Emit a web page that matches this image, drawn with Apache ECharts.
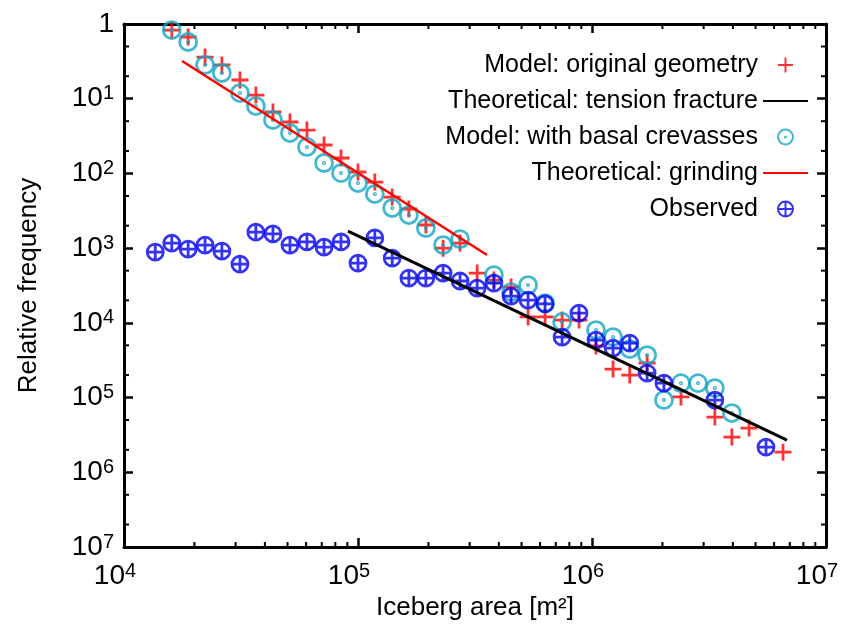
<!DOCTYPE html>
<html>
<head>
<meta charset="utf-8">
<script src="https://cdn.jsdelivr.net/npm/echarts@6/dist/echarts.min.js"></script>
<style>
html,body{margin:0;padding:0;background:#fff;}
#chart{width:841px;height:633px;}
</style>
</head>
<body>
<div id="chart"></div>
<script>
// ---- Data ----
const origX = [1.60e4, 1.88e4, 2.22e4, 2.62e4, 3.13e4, 3.66e4, 4.33e4, 5.12e4, 6.05e4, 7.16e4, 8.46e4, 1.00e5, 1.18e5, 1.40e5, 1.65e5, 1.95e5, 2.31e5, 2.73e5, 3.23e5, 3.81e5, 4.51e5, 5.33e5, 6.30e5, 7.45e5, 8.80e5, 1.04e6, 1.23e6, 1.45e6, 1.72e6, 2.40e6, 3.35e6, 3.96e6, 4.69e6, 6.55e6];
const origY = [0.83, 0.67, 0.361, 0.283, 0.178, 0.112, 0.0664, 0.0488, 0.0381, 0.024, 0.0161, 0.01045, 0.00767, 0.00483, 0.00334, 0.00204, 0.00100, 0.00117, 4.64e-4, 3.74e-4, 3.01e-4, 1.20e-4, 1.20e-4, 1.09e-4, 1.09e-4, 4.9e-5, 2.41e-5, 2.0e-5, 2.9e-5, 1.02e-5, 5.48e-6, 2.96e-6, 3.9e-6, 1.86e-6];

const basalX = [1.60e4, 1.88e4, 2.22e4, 2.62e4, 3.13e4, 3.66e4, 4.33e4, 5.12e4, 6.05e4, 7.16e4, 8.46e4, 1.00e5, 1.18e5, 1.40e5, 1.65e5, 1.95e5, 2.31e5, 2.73e5, 3.81e5, 4.51e5, 5.33e5, 6.30e5, 7.45e5, 1.04e6, 1.23e6, 1.45e6, 1.72e6, 2.03e6, 2.40e6, 2.84e6, 3.35e6, 3.96e6];
const basalY = [0.83, 0.574, 0.283, 0.221, 0.119, 0.0798, 0.0519, 0.0347, 0.0226, 0.0138, 0.0101, 0.00744, 0.0053, 0.00344, 0.00277, 0.00186, 0.0011, 0.00132, 4.36e-4, 2.58e-4, 3.2e-4, 1.84e-4, 1.03e-4, 8.0e-5, 6.45e-5, 4.46e-5, 3.7e-5, 9.3e-6, 1.56e-5, 1.56e-5, 1.34e-5, 6.2e-6];

const obsX = [1.36e4, 1.60e4, 1.88e4, 2.22e4, 2.62e4, 3.13e4, 3.66e4, 4.33e4, 5.12e4, 6.05e4, 7.16e4, 8.46e4, 1.00e5, 1.18e5, 1.40e5, 1.65e5, 1.95e5, 2.31e5, 2.73e5, 3.23e5, 3.81e5, 4.51e5, 5.33e5, 6.30e5, 7.45e5, 8.80e5, 1.04e6, 1.23e6, 1.45e6, 1.72e6, 2.03e6, 3.35e6, 5.54e6];
const obsY = [8.87e-4, 1.17e-3, 9.73e-4, 1.10e-3, 9.15e-4, 6.12e-4, 1.64e-3, 1.55e-3, 1.10e-3, 1.21e-3, 1.03e-3, 1.21e-3, 6.32e-4, 1.37e-3, 7.37e-4, 3.98e-4, 3.98e-4, 4.64e-4, 3.63e-4, 2.92e-4, 3.41e-4, 2.28e-4, 2.02e-4, 1.79e-4, 6.45e-5, 1.35e-4, 5.89e-5, 4.6e-5, 5.37e-5, 2.13e-5, 1.56e-5, 9.26e-6, 2.17e-6];

const tensionX = [9.06e4, 6.81e6];
const tensionY = [1.69e-3, 2.7e-6];
const grindX = [1.77e4, 3.56e5];
const grindY = [0.32, 8.09e-4];

const seriesNames = ['Model: original geometry', 'Theoretical: tension fracture', 'Model: with basal crevasses', 'Theoretical: grinding', 'Observed'];
const xAxisTitle = 'Iceberg area [m\u00B2]';
const yAxisTitle = 'Relative frequency';

// axis ranges / tick lists
const xMin = 1e4, xMax = 1e7;
const yMin = 1e-7, yMax = 1;
const xMinorMantissas = [2, 3, 4, 5, 6, 7, 8, 9];
const yMinorMantissas = [2, 5];

// ---- build ----
const zip = (xs, ys) => xs.map((x, i) => [x, ys[i]]);
const FONT = '"Liberation Sans", Arial, Helvetica, sans-serif';

function minorTicks(lo, hi, mant) {
  const out = [];
  for (let e = Math.round(Math.log10(lo)); e < Math.round(Math.log10(hi)); e++) {
    mant.forEach(m => out.push(m * Math.pow(10, e)));
  }
  return out;
}
const xMinor = minorTicks(xMin, xMax, xMinorMantissas);
const yMinor = minorTicks(yMin, yMax, yMinorMantissas);

const crossPath = 'path://M0,10L20,10M10,0L10,20';
const dotCirclePath = 'path://M0,10A10,10,0,1,1,20,10A10,10,0,1,1,0,10ZM9.2,10A0.8,0.8,0,1,1,10.8,10A0.8,0.8,0,1,1,9.2,10Z';
const plusCirclePath = 'path://M0,10A10,10,0,1,1,20,10A10,10,0,1,1,0,10ZM0,10L20,10M10,0L10,20';

const RED = '#ff0000', CYAN = '#12a6c4', BLUE = '#0000ee', BLACK = '#000000';

function expLabel(v) {
  const e = Math.round(Math.log10(v));
  if (e === 0) return '{b|1}';
  return '{b|10}{s|' + Math.abs(e) + '}';
}
const richLabel = {
  b: { fontSize: 28, fontFamily: FONT, color: '#000', lineHeight: 30 },
  s: { fontSize: 20, fontFamily: FONT, color: '#000', lineHeight: 20, verticalAlign: 'top' }
};

function axisBase(extra) {
  return Object.assign({
    type: 'log', logBase: 10,
    axisLine: { show: true, onZero: false, lineStyle: { color: '#000', width: 3 } },
    axisTick: { show: true, inside: true, length: 9, lineStyle: { color: '#000', width: 2.5 } },
    splitLine: { show: false },
    minorTick: { show: false }
  }, extra);
}

// minor tick marks on all four frame sides, placed through the axis scales
function xTickSeries(values, len, width) {
  return {
    type: 'custom', clip: false,
    data: values.map(v => [v, 1e-3]),
    renderItem: function (params, api) {
      const cs = params.coordSys;
      const x = api.coord([api.value(0), 1e-3])[0];
      const b = cs.y + cs.height;
      return { type: 'group', children: [
        { type: 'line', shape: { x1: x, y1: b, x2: x, y2: b - len }, style: { stroke: '#000', lineWidth: width } },
        { type: 'line', shape: { x1: x, y1: cs.y, x2: x, y2: cs.y + len }, style: { stroke: '#000', lineWidth: width } }
      ] };
    }
  };
}
function yTickSeries(values, len, width) {
  return {
    type: 'custom', clip: false,
    data: values.map(v => [1e5, v]),
    renderItem: function (params, api) {
      const cs = params.coordSys;
      const y = api.coord([1e5, api.value(1)])[1];
      const r = cs.x + cs.width;
      return { type: 'group', children: [
        { type: 'line', shape: { x1: cs.x, y1: y, x2: cs.x + len, y2: y }, style: { stroke: '#000', lineWidth: width } },
        { type: 'line', shape: { x1: r, y1: y, x2: r - len, y2: y }, style: { stroke: '#000', lineWidth: width } }
      ] };
    }
  };
}

const chart = echarts.init(document.getElementById('chart'), null, { renderer: 'canvas' });
chart.setOption({
  animation: false,
  grid: { left: 124, right: 15, top: 24, bottom: 86, outerBoundsMode: 'none' },
  xAxis: [
    axisBase({
      min: xMin, max: xMax,
      axisLabel: { margin: 14, padding: [0, 18, 0, 0], formatter: v => expLabel(v), rich: richLabel },
      name: xAxisTitle, nameLocation: 'middle', nameGap: 46,
      nameTextStyle: { fontSize: 26, fontFamily: FONT, color: '#000' }
    }),
    axisBase({ position: 'top', min: xMin, max: xMax, axisLabel: { show: false } })
  ],
  yAxis: [
    axisBase({
      min: yMin, max: yMax,
      axisLabel: { margin: 10, formatter: v => expLabel(v), rich: richLabel },
      name: yAxisTitle, nameLocation: 'middle', nameGap: 82,
      nameTextStyle: { fontSize: 26, fontFamily: FONT, color: '#000' }
    }),
    axisBase({ position: 'right', min: yMin, max: yMax, axisLabel: { show: false } })
  ],
  legend: {
    data: seriesNames,
    orient: 'vertical',
    right: 32, top: 51,
    padding: 0,
    align: 'right',
    itemWidth: 45, itemHeight: 15,
    itemGap: 8,
    textStyle: { fontSize: 25, fontFamily: FONT, color: '#000', lineHeight: 28 },
    selectedMode: false
  },
  series: [
    {
      name: seriesNames[0], type: 'scatter', data: zip(origX, origY),
      symbol: crossPath, symbolSize: 17,
      itemStyle: { color: 'rgba(0,0,0,0)', borderColor: RED, borderWidth: 2.8 }
    },
    {
      name: seriesNames[1], type: 'line', data: zip(tensionX, tensionY),
      symbol: 'circle', symbolSize: 0, showSymbol: false,
      lineStyle: { color: BLACK, width: 3 }, itemStyle: { color: 'rgba(0,0,0,0)', borderWidth: 0 }
    },
    {
      name: seriesNames[2], type: 'scatter', data: zip(basalX, basalY),
      symbol: dotCirclePath, symbolSize: 17,
      itemStyle: { color: 'rgba(0,0,0,0)', borderColor: CYAN, borderWidth: 2.8 }
    },
    {
      name: seriesNames[3], type: 'line', data: zip(grindX, grindY),
      symbol: 'circle', symbolSize: 0, showSymbol: false,
      lineStyle: { color: RED, width: 2.5 }, itemStyle: { color: 'rgba(0,0,0,0)', borderWidth: 0 }
    },
    {
      name: seriesNames[4], type: 'scatter', data: zip(obsX, obsY),
      symbol: plusCirclePath, symbolSize: 16,
      itemStyle: { color: 'rgba(0,0,0,0)', borderColor: BLUE, borderWidth: 2.8 }
    },
    xTickSeries(xMinor, 5, 2),
    yTickSeries(yMinor, 5, 2)
  ]
});
</script>
</body>
</html>
